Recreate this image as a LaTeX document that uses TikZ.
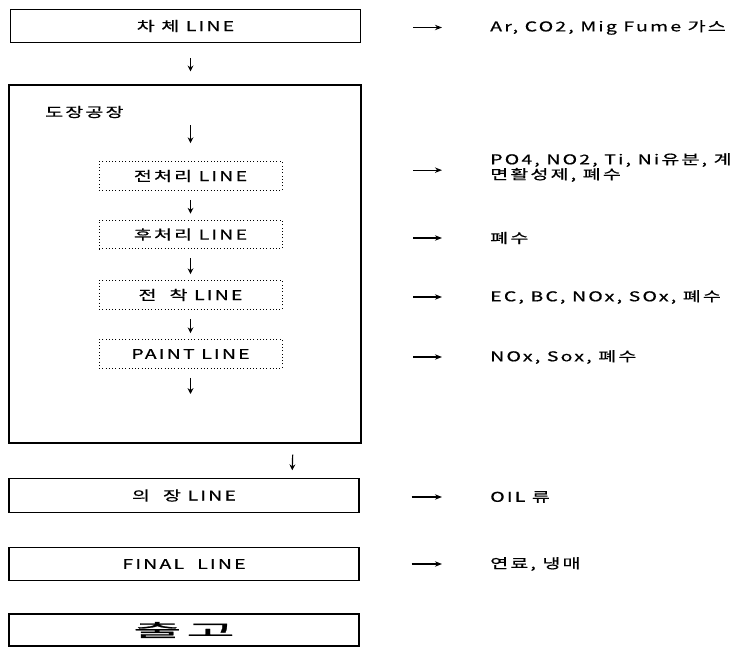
\documentclass[tikz,border=0pt]{standalone}
\usepackage{fontspec}
\setmainfont[LetterSpace=16,FakeStretch=1.45,FakeBold=0.6]{Noto Sans CJK KR}
\newfontfamily\gofont[FakeStretch=3.0,FakeBold=1.5]{Noto Sans CJK KR}
\usetikzlibrary{positioning,calc,arrows.meta}
\newcommand{\boxfont}{\fontsize{11.5pt}{10.6pt}\selectfont}

\begin{document}
\begin{tikzpicture}[x=0.03cm,y=-0.03cm,>={Stealth[length=6pt,width=4.6pt]},
    mainbox/.style={draw,line width=1pt,minimum width=10.5cm,minimum height=1.0cm,inner sep=0pt,font=\boxfont},
    linebox/.style={draw,dotted,line width=0.8pt,minimum width=5.49cm,minimum height=0.86cm,inner sep=0pt,font=\boxfont},
    outtxt/.style={anchor=west,inner sep=0pt,align=left,font=\boxfont},
    down/.style={->,line width=1pt,>={Stealth[length=5pt,width=5pt]}},
    emit/.style={->,line width=1pt,shorten >=1.44cm}]
    \useasboundingbox (0,0) rectangle (742,647);
    % main line boxes
    \node[mainbox] (cha) at (185.5,26) {차 체 LINE};
    \node[draw,line width=1pt,minimum width=10.56cm,minimum height=10.74cm] (dojang) at (185,264) {};
    \node[font=\boxfont,anchor=west,inner sep=0pt] (djtitle) at (45,112) {도장공장};
    \node[mainbox] (uijang) at (184,495.5) {의\ \ 장 LINE};
    \node[mainbox] (final) at (184,564) {FINAL\ \ LINE};
    \node[mainbox,minimum height=0.96cm] (chulgo) at (184,630) {\gofont\fontsize{15pt}{16pt}\selectfont 출\hspace{4pt}고};
    % paint shop lines
    \node[linebox] (pre) at (190.5,176) {전처리 LINE};
    \node[linebox] (post) at (190.5,234.5) {후처리 LINE};
    \node[linebox] (ed) at (190.5,295) {전\ \ 착 LINE};
    \node[linebox] (paint) at (190.5,354) {PAINT LINE};
    \coordinate (pend) at (190.5,400);
    % what comes out of each line
    \node[outtxt] (gas) at (490,27.5) {Ar, CO2, Mig Fume 가스};
    \node[outtxt] (pretxt) at (490,167.5) {PO4, NO2, Ti, Ni유분, 계\\면활성제, 폐수};
    \node[outtxt] (posttxt) at (490,238) {폐수};
    \node[outtxt] (edtxt) at (490,297) {EC, BC, NOx, SOx, 폐수};
    \node[outtxt] (painttxt) at (490,357) {NOx, Sox, 폐수};
    \node[outtxt] (oil) at (490,497) {OIL 류};
    \node[outtxt] (fuel) at (490,564) {연료, 냉매};
    % flow arrows
    \draw[down,shorten <=0.45cm,shorten >=0.39cm] (cha.south -| pre.north) -- (dojang.north -| pre.north);
    \draw[down,shorten <=1.23cm,shorten >=0.54cm] (dojang.north -| pre.north) -- (pre.north);
    \draw[down,shorten <=0.27cm,shorten >=0.18cm] (pre) -- (post);
    \draw[down,shorten <=0.27cm,shorten >=0.18cm] (post) -- (ed);
    \draw[down,shorten <=0.27cm,shorten >=0.18cm] (ed) -- (paint);
    \draw[down,shorten <=0.27cm,shorten >=0.18cm] (paint) -- (pend);
    \draw[down,shorten <=0.33cm,shorten >=0.24cm] ([xshift=3.24cm]dojang.south) -- ([xshift=3.24cm]uijang.north);
    % emission arrows
    \draw[emit,shorten <=1.56cm] (gas.west -| cha.east) -- (gas.west);
    \draw[emit,shorten <=3.93cm] ([yshift=-0.08cm]pretxt.west -| pre.east) -- ([yshift=-0.08cm]pretxt.west);
    \draw[emit,shorten <=3.93cm] (posttxt.west -| post.east) -- (posttxt.west);
    \draw[emit,shorten <=3.93cm] (edtxt.west -| ed.east) -- (edtxt.west);
    \draw[emit,shorten <=3.93cm] (painttxt.west -| paint.east) -- (painttxt.west);
    \draw[emit,shorten <=1.56cm] (oil.west -| uijang.east) -- (oil.west);
    \draw[emit,shorten <=1.56cm] (fuel.west -| final.east) -- (fuel.west);
\end{tikzpicture}
\end{document}
